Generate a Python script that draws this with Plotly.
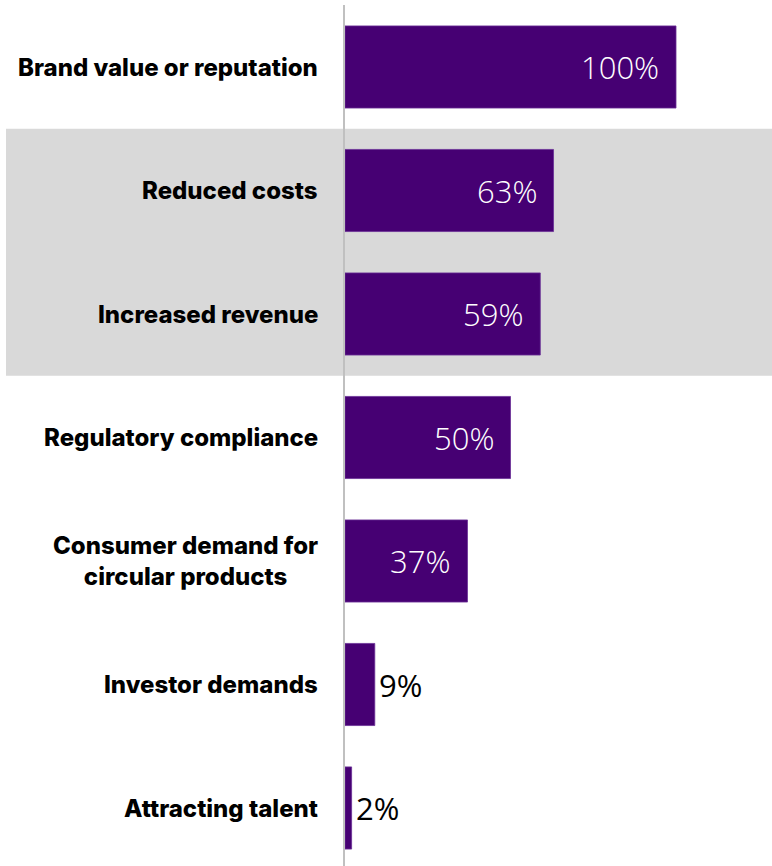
import plotly.graph_objects as go

# Survey results: drivers of circular-economy investment
categories = [
    "Brand value or reputation",
    "Reduced costs",
    "Increased revenue",
    "Regulatory compliance",
    "Consumer demand for<br>circular products",
    "Investor demands",
    "Attracting talent",
]
values = [100, 63, 59, 50, 37, 9, 2]
highlighted = ["Reduced costs", "Increased revenue"]

PURPLE = "#460073"
W, H = 772, 866
LEFT, TOP = 345, 5

positions = list(range(len(categories)))

fig = go.Figure(
    go.Bar(
        x=values,
        y=positions,
        orientation="h",
        width=0.665,
        marker=dict(color=PURPLE, line=dict(color="#6a2f95", width=0.8)),
        hoverinfo="skip",
    )
)

# Grey band behind the highlighted rows
hi_idx = [categories.index(c) for c in highlighted]
fig.add_shape(
    type="rect",
    xref="paper", yref="y",
    x0=(6 - LEFT) / (W - LEFT), x1=1,
    y0=min(hi_idx) - 0.5, y1=max(hi_idx) + 0.5,
    fillcolor="#d9d9d9", line=dict(width=0), layer="below",
)

# Row labels, right-aligned against the axis
for i, cat in enumerate(categories):
    fig.add_annotation(
        x=0, xref="paper", y=i, yref="y",
        text=cat, showarrow=False,
        xanchor="right", xshift=-25, align="center",
        font=dict(family="Inter", size=24, color="#000000", weight=800),
    )

# Value labels: inside the bar when it fits, otherwise just past its end
for i, v in enumerate(values):
    inside = v >= 20
    fig.add_annotation(
        x=v, y=i, xref="x", yref="y",
        text=f"{v}%", showarrow=False,
        xanchor="right" if inside else "left",
        xshift=-15 if inside else 2,
        font=dict(family="Open Sans", size=31,
                  weight=300 if inside else 400,
                  color="#ffffff" if inside else "#000000"),
    )

plot_w = W - LEFT
fig.update_layout(
    width=W, height=H,
    margin=dict(l=LEFT, r=0, t=TOP, b=0),
    paper_bgcolor="#ffffff", plot_bgcolor="rgba(0,0,0,0)",
    showlegend=False,
    xaxis=dict(range=[0, 100 * plot_w / 331], visible=False, fixedrange=True),
    yaxis=dict(
        range=[-0.502 + (H - TOP) / 123.5, -0.502],
        showticklabels=False, showgrid=False, zeroline=False,
        showline=True, linecolor="#c0c0c0", linewidth=2, ticks="",
        fixedrange=True,
    ),
)

fig.write_html("out.html")
